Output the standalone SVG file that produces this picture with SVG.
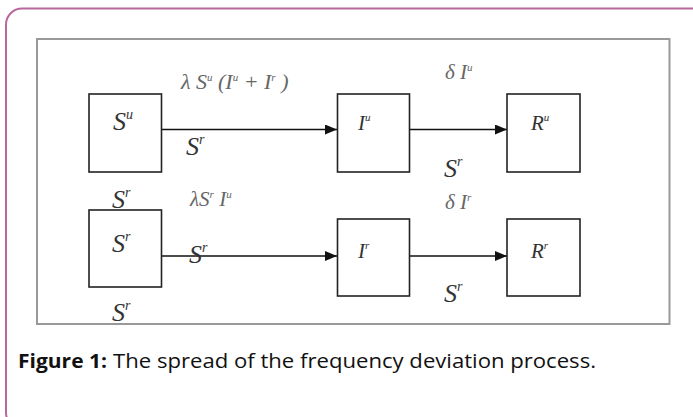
<svg xmlns="http://www.w3.org/2000/svg" width="693" height="417" viewBox="0 0 693 417">
<style>
.box{fill:#fff;stroke:#222;stroke-width:1.6}
.m{font-family:"Liberation Serif","Times New Roman","DejaVu Serif",serif;font-style:italic;fill:#333}
.f{font-family:"Liberation Serif","Times New Roman","DejaVu Serif",serif;font-style:italic;fill:#666}
.cap{font-family:"Open Sans","Liberation Sans",sans-serif;font-size:20px;fill:#111}
.edge{stroke:#111;stroke-width:1.6;fill:none}
</style>
<defs>
<marker id="ah" viewBox="0 0 12 10" refX="12" refY="5" markerWidth="12" markerHeight="10" markerUnits="userSpaceOnUse" orient="auto">
<path d="M0,0 L12,5 L0,10 Z" fill="#111"/>
</marker>
</defs>
<rect x="6" y="8.5" width="705" height="420" rx="16" fill="#fff" stroke="#b8679a" stroke-width="2"/>
<rect x="37" y="39" width="632.5" height="285" fill="#fff" stroke="#999" stroke-width="2"/>
<g id="connectors">
<line class="edge" x1="162" y1="129.5" x2="337" y2="129.5" marker-end="url(#ah)"/>
<line class="edge" x1="409" y1="129.5" x2="507" y2="129.5" marker-end="url(#ah)"/>
<line class="edge" x1="162" y1="256" x2="337" y2="256" stroke="#444" marker-end="url(#ah)"/>
<line class="edge" x1="409" y1="256" x2="507" y2="256" marker-end="url(#ah)"/>
</g>
<g id="Su">
<rect class="box" x="89" y="94" width="72.5" height="78"/>
<text class="m" x="113" y="130" font-size="26">S<tspan font-size="14" dy="-11">u</tspan></text>
</g>
<g id="Iu">
<rect class="box" x="337.5" y="94" width="72" height="78"/>
<text class="m" x="358" y="130" font-size="21">I<tspan font-size="11" dy="-9">u</tspan></text>
</g>
<g id="Ru">
<rect class="box" x="507" y="94" width="73" height="78"/>
<text class="m" x="531" y="130" font-size="21">R<tspan font-size="11" dy="-9">u</tspan></text>
</g>
<g id="Sr">
<rect class="box" x="89" y="210" width="72.5" height="77"/>
<text class="m" x="112" y="252" font-size="26">S<tspan font-size="14" dy="-11">r</tspan></text>
</g>
<g id="Ir">
<rect class="box" x="337.5" y="219" width="72" height="77"/>
<text class="m" x="358" y="258" font-size="21">I<tspan font-size="11" dy="-9">r</tspan></text>
</g>
<g id="Rr">
<rect class="box" x="507" y="219" width="73" height="77"/>
<text class="m" x="531" y="258" font-size="21">R<tspan font-size="11" dy="-9">r</tspan></text>
</g>
<g id="labels">
<text class="f" x="181" y="89" font-size="22">λ S<tspan font-size="11" dy="-8">u</tspan><tspan dy="8"> (I</tspan><tspan font-size="11" dy="-8">u</tspan><tspan dy="8"> + I</tspan><tspan font-size="11" dy="-8">r</tspan><tspan dy="8"> )</tspan></text>
<text class="f" x="445" y="79" font-size="21">δ I<tspan font-size="11" dy="-8">u</tspan></text>
<text class="m" x="186" y="155" font-size="26">S<tspan font-size="14" dy="-11">r</tspan></text>
<text class="m" x="444" y="177" font-size="26">S<tspan font-size="14" dy="-11">r</tspan></text>
<text class="m" x="112" y="208" font-size="26">S<tspan font-size="14" dy="-11">r</tspan></text>
<text class="f" x="190" y="206" font-size="21">λS<tspan font-size="11" dy="-8">r</tspan><tspan dy="8"> I</tspan><tspan font-size="11" dy="-8">u</tspan></text>
<text class="f" x="445" y="209" font-size="21">δ I<tspan font-size="11" dy="-8">r</tspan></text>
<text class="m" x="189" y="263" font-size="26">S<tspan font-size="14" dy="-11">r</tspan></text>
<text class="m" x="112" y="321" font-size="26">S<tspan font-size="14" dy="-11">r</tspan></text>
<text class="m" x="444" y="302" font-size="26">S<tspan font-size="14" dy="-11">r</tspan></text>
</g>
<text class="cap" x="18" y="368" font-weight="bold" textLength="89" lengthAdjust="spacingAndGlyphs">Figure 1:</text>
<text class="cap" x="113" y="368" textLength="483" lengthAdjust="spacingAndGlyphs">The spread of the frequency deviation process.</text>
</svg>
